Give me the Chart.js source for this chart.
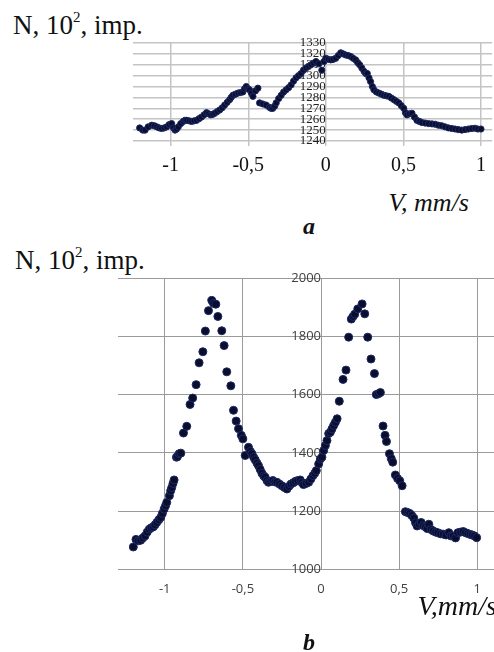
<!DOCTYPE html>
<html>
<head>
<meta charset="utf-8">
<script src="https://cdn.jsdelivr.net/npm/chart.js@4.4.1/dist/chart.umd.min.js"></script>
<style>
  body { margin: 0; background: #fff; width: 494px; height: 652px; position: relative; overflow: hidden; font-family: "Times New Roman", "Liberation Serif", Times, serif; color: #111; }
  .box { position: absolute; left: 0; }
  .t { position: absolute; white-space: nowrap; line-height: 1; }
  .ylab { font-size: 27px; }
  .vlab { font-size: 26px; font-style: italic; }
  .panel { font-size: 24px; font-style: italic; font-weight: bold; }
</style>
</head>
<body>
<div class="t ylab" style="left:13px;top:10px">N, 10<sup style="font-size:15px;vertical-align:12px">2</sup>, imp.</div>
<div class="box" style="top:0"><canvas id="chartA" width="494" height="186"></canvas></div>
<div class="t vlab" style="right:25px;top:190px">V, mm/s</div>
<div class="t panel" style="left:303px;top:214px">a</div>

<div class="t ylab" style="left:15px;top:245px">N, 10<sup style="font-size:15px;vertical-align:12px">2</sup>, imp.</div>
<div class="box" style="top:240px"><canvas id="chartB" width="494" height="369"></canvas></div>
<div class="t vlab" style="right:-3px;top:592px;font-size:28px">V,mm/s</div>
<div class="t panel" style="left:303px;top:630px">b</div>

<script>
// spectrum a
const velA = [-1.20, -1.18, -1.165, -1.145, -1.122, -1.105, -1.09, -1.074, -1.058, -1.042, -1.026, -1.01, -0.994, -0.982, -0.972, -0.962, -0.951, -0.935, -0.919, -0.908, -0.897, -0.881, -0.865, -0.849, -0.833, -0.817, -0.801, -0.785, -0.769, -0.756, -0.742, -0.729, -0.716, -0.70, -0.684, -0.668, -0.652, -0.636, -0.62, -0.61, -0.599, -0.583, -0.567, -0.551, -0.535, -0.524, -0.513, -0.502, -0.492, -0.48, -0.47, -0.454, -0.438, -0.427, -0.406, -0.385, -0.364, -0.353, -0.342, -0.33, -0.32, -0.304, -0.288, -0.272, -0.256, -0.24, -0.224, -0.208, -0.192, -0.176, -0.16, -0.144, -0.128, -0.112, -0.096, -0.08, -0.064, -0.045, -0.026, -0.012, 0.0, 0.016, 0.032, 0.048, 0.064, 0.08, 0.096, 0.112, 0.128, 0.144, 0.16, 0.176, 0.192, 0.205, 0.218, 0.232, 0.246, 0.257, 0.267, 0.278, 0.288, 0.30, 0.31, 0.326, 0.342, 0.358, 0.374, 0.39, 0.406, 0.422, 0.438, 0.454, 0.47, 0.486, 0.502, 0.513, 0.523, 0.539, 0.555, 0.571, 0.587, 0.603, 0.619, 0.64, 0.662, 0.684, 0.705, 0.726, 0.747, 0.768, 0.79, 0.812, 0.833, 0.854, 0.876, 0.898, 0.919, 0.94, 0.962, 0.98, 1.0];
const countA = [1252, 1250, 1250, 1253, 1254.5, 1254, 1253, 1252, 1251.5, 1252, 1253, 1255, 1256, 1252, 1250, 1251, 1253, 1256, 1258, 1259, 1259, 1258.5, 1258, 1258.5, 1259, 1260.5, 1262, 1264, 1266, 1265, 1264, 1264.5, 1265.5, 1267, 1268.5, 1270.5, 1273, 1275.5, 1278, 1280, 1282, 1283, 1284, 1284.5, 1285, 1288, 1290, 1288, 1287, 1284, 1281, 1286, 1288.5, 1275, 1274, 1273, 1271, 1270, 1270, 1272, 1275, 1279, 1282, 1285, 1287, 1289, 1291.5, 1295, 1298, 1300, 1302, 1305, 1307, 1308.5, 1310, 1311.5, 1313, 1311, 1305, 1313, 1316, 1315, 1314.5, 1315, 1316, 1318.5, 1321, 1320, 1319, 1318.5, 1317.6, 1316, 1314.5, 1312, 1310, 1307, 1304, 1302, 1302, 1298, 1294.6, 1290, 1287, 1285, 1284, 1283, 1282, 1281.5, 1281, 1279.5, 1278, 1276.5, 1275, 1272.5, 1270, 1266, 1264, 1265, 1265.5, 1262, 1259, 1258, 1257, 1256.5, 1256, 1255.7, 1255.4, 1254.5, 1254, 1253, 1252, 1251.5, 1251, 1250.5, 1250, 1250.5, 1251, 1251.5, 1251.7, 1251, 1251];
const yTicksA = [1240, 1250, 1260, 1270, 1280, 1290, 1300, 1310, 1320, 1330];

// spectrum b
const velB = [-1.201, -1.184, -1.17, -1.154, -1.14, -1.126, -1.112, -1.099, -1.086, -1.073, -1.062, -1.051, -1.038, -1.026, -1.015, -1.004, -0.995, -0.987, -0.97, -0.962, -0.955, -0.947, -0.94, -0.925, -0.919, -0.908, -0.897, -0.88, -0.859, -0.838, -0.821, -0.799, -0.78, -0.756, -0.74, -0.72, -0.699, -0.688, -0.673, -0.66, -0.635, -0.62, -0.603, -0.577, -0.56, -0.543, -0.528, -0.51, -0.5, -0.485, -0.464, -0.452, -0.442, -0.431, -0.421, -0.41, -0.4, -0.389, -0.378, -0.367, -0.357, -0.346, -0.336, -0.322, -0.308, -0.295, -0.282, -0.266, -0.25, -0.234, -0.218, -0.205, -0.192, -0.178, -0.165, -0.149, -0.133, -0.122, -0.112, -0.095, -0.079, -0.065, -0.051, -0.04, -0.03, -0.015, -0.004, 0.006, 0.017, 0.028, 0.038, 0.049, 0.06, 0.07, 0.081, 0.092, 0.103, 0.117, 0.141, 0.16, 0.177, 0.194, 0.205, 0.216, 0.235, 0.263, 0.28, 0.299, 0.32, 0.342, 0.354, 0.368, 0.38, 0.397, 0.41, 0.419, 0.438, 0.45, 0.459, 0.476, 0.49, 0.504, 0.519, 0.54, 0.555, 0.568, 0.581, 0.594, 0.605, 0.615, 0.628, 0.641, 0.655, 0.668, 0.68, 0.69, 0.704, 0.718, 0.733, 0.747, 0.765, 0.782, 0.80, 0.818, 0.832, 0.846, 0.861, 0.876, 0.893, 0.91, 0.925, 0.94, 0.955, 0.968, 0.982, 0.996];
const countB = [1077, 1103, 1098, 1100, 1108, 1115, 1128, 1138, 1143, 1146, 1153, 1161, 1170, 1178, 1192, 1207, 1218, 1230, 1253, 1270, 1281, 1295, 1307, 1385, 1387, 1397, 1399, 1468, 1491, 1566, 1588, 1634, 1709, 1747, 1818, 1888, 1923, 1913, 1910, 1868, 1819, 1768, 1678, 1630, 1546, 1509, 1483, 1460, 1448, 1391, 1419, 1405, 1397, 1385, 1376, 1365, 1356, 1343, 1330, 1321, 1316, 1305, 1299, 1302, 1305, 1300, 1299, 1293, 1287, 1281, 1276, 1285, 1293, 1297, 1302, 1305, 1307, 1298, 1291, 1295, 1299, 1310, 1322, 1330, 1339, 1362, 1379, 1385, 1408, 1425, 1442, 1466, 1471, 1482, 1494, 1505, 1517, 1577, 1652, 1684, 1797, 1859, 1868, 1876, 1894, 1911, 1877, 1797, 1722, 1672, 1600, 1603, 1607, 1492, 1460, 1439, 1397, 1380, 1368, 1324, 1312, 1304, 1287, 1198, 1195, 1192, 1185, 1176, 1160, 1149, 1155, 1161, 1150, 1146, 1140, 1155, 1137, 1132, 1128, 1126, 1122, 1121, 1118, 1126, 1115, 1115, 1108, 1126, 1128, 1130, 1126, 1123, 1120, 1118, 1115, 1109];
const yTicksB = [1000, 1200, 1400, 1600, 1800, 2000];

const xTicks = [-1, -0.5, 0, 0.5, 1];

const serif = "'Times New Roman', 'Liberation Serif', Times, serif";
const toPoints = (xs, ys) => xs.map((x, i) => ({ x: x, y: ys[i] }));
const commaLabel = (v) => String(v).replace(".", ",");

const makeChart = (id, cfg) => {
  const ctx = document.getElementById(id).getContext("2d");
  return new Chart(ctx, {
    type: "scatter",
    data: {
      datasets: [
        {
          data: toPoints(cfg.xs, cfg.ys),
          pointRadius: cfg.radius,
          pointBackgroundColor: "#0a0d2c",
          pointBorderColor: "#1c2a66",
          pointBorderWidth: 1,
        },
      ],
    },
    options: {
      responsive: false,
      animation: false,
      events: [],
      layout: { padding: cfg.padding, autoPadding: false },
      plugins: { legend: { display: false }, tooltip: { enabled: false } },
      scales: {
        x: {
          type: "linear",
          position: "bottom",
          min: cfg.xMin,
          max: cfg.xMax,
          afterBuildTicks: (s) => { s.ticks = xTicks.map((v) => ({ value: v })); },
          border: { display: false },
          grid: { color: cfg.gridColor, lineWidth: cfg.gridWidth, drawTicks: cfg.xTickLen > 0, tickLength: cfg.xTickLen },
          ticks: { autoSkip: false, maxRotation: 0, padding: cfg.xPad, color: cfg.xColor, font: cfg.xFont, callback: commaLabel },
        },
        y: {
          type: "linear",
          position: { x: 0 },
          min: cfg.yTicks[0],
          max: cfg.yTicks[cfg.yTicks.length - 1],
          afterBuildTicks: (s) => { s.ticks = cfg.yTicks.map((v) => ({ value: v })); },
          afterFit: (s) => { s.width = 0; },
          border: { display: false },
          grid: { color: cfg.gridColor, lineWidth: cfg.gridWidth, drawTicks: false },
          ticks: { autoSkip: false, padding: cfg.yPad, color: cfg.yColor, font: cfg.yFont, callback: (v) => String(v) },
        },
      },
    },
  });
};

makeChart("chartA", {
  xs: velA, ys: countA, yTicks: yTicksA, radius: 3.1,
  xMin: -1.243, xMax: 1.072,
  padding: { left: 133, top: 43, right: 0, bottom: 0 },
  gridColor: "#c4c4c4", gridWidth: 1.5,
  xTickLen: 5, xPad: 8, xColor: "#111", xFont: { family: serif, size: 20 },
  yPad: 13, yColor: "#222", yFont: { family: serif, size: 13 },
});

makeChart("chartB", {
  xs: velB, ys: countB, yTicks: yTicksB, radius: 4,
  xMin: -1.299, xMax: 1.107,
  padding: { left: 118, top: 38, right: 0, bottom: 0 },
  gridColor: "#9a9a9a", gridWidth: 1,
  xTickLen: 0, xPad: 12, xColor: "#404040", xFont: { family: "Open Sans", size: 13 },
  yPad: 14, yColor: "#404040", yFont: { family: "Open Sans", size: 13 },
});
</script>
</body>
</html>
